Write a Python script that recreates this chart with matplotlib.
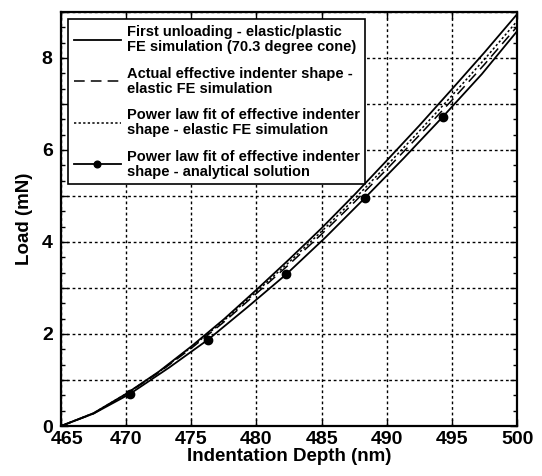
import matplotlib.pyplot as plt
import matplotlib.transforms as mtransforms
from matplotlib.ticker import MultipleLocator, FuncFormatter

plt.rcParams['font.family'] = ['Liberation Sans', 'DejaVu Sans']
plt.rcParams['font.weight'] = 'bold'

# depth grid for the FE curves (nm)
depth = [465, 467.5, 470, 472.5, 475, 477.5, 480, 482.5, 485, 487.5, 490, 492.5, 495, 497.5, 500]
# first unloading - elastic/plastic FE (mN)
load_fe = [0, 0.28, 0.70, 1.18, 1.73, 2.32, 2.96, 3.62, 4.30, 5.02, 5.77, 6.53, 7.32, 8.12, 8.95]
# actual effective indenter shape - elastic FE
load_eff = [0, 0.27, 0.69, 1.16, 1.69, 2.26, 2.88, 3.51, 4.17, 4.86, 5.58, 6.32, 7.08, 7.86, 8.68]
# power law fit - elastic FE
load_fit = [0, 0.28, 0.70, 1.17, 1.71, 2.29, 2.92, 3.56, 4.23, 4.93, 5.66, 6.41, 7.18, 7.97, 8.80]

# power law fit - analytical solution
depth_an = [465, 467.5, 470.3, 473.3, 476.3, 479.3, 482.3, 485.3, 488.3, 491.3, 494.3, 497.3, 500]
load_an = [0, 0.27, 0.70, 1.27, 1.88, 2.58, 3.30, 4.10, 4.95, 5.82, 6.72, 7.65, 8.58]
marker_idx = [2, 4, 6, 8, 10]

xticks = [465, 470, 475, 480, 485, 490, 495, 500]

labels = ['First unloading - elastic/plastic\nFE simulation (70.3 degree cone)',
          'Actual effective indenter shape -\nelastic FE simulation',
          'Power law fit of effective indenter\nshape - elastic FE simulation',
          'Power law fit of effective indenter\nshape - analytical solution']

fig = plt.figure(figsize=(5.42, 4.76), dpi=100)
ax = fig.add_axes([0.1125, 0.105, 0.8415, 0.87])

ax.plot(depth, load_fe, color='black', lw=1.3, label=labels[0])
ax.plot(depth, load_eff, color='black', lw=1.1, ls=(0, (7, 4)), label=labels[1])
ax.plot(depth, load_fit, color='black', lw=1.1, ls=(0, (1.5, 1.5)), label=labels[2])
ax.plot(depth_an, load_an, color='black', lw=1.3, marker='o', ms=6,
        markevery=marker_idx, label=labels[3])

ax.set_xlim(465, 500)
ax.set_ylim(0, 9)
ax.set_xticks(xticks)
ax.yaxis.set_major_locator(MultipleLocator(1))
ax.yaxis.set_minor_locator(MultipleLocator(1 / 3))
ax.yaxis.set_major_formatter(FuncFormatter(lambda v, p: '%d' % v if int(round(v)) % 2 == 0 else ''))
ax.tick_params(which='both', direction='in', top=True, right=True, labelsize=14, width=1)
ax.tick_params(which='major', length=5)
ax.tick_params(which='minor', length=3)
ax.tick_params(axis='y', pad=6)
ax.grid(True, which='major', color='black', ls=(0, (2, 2)), lw=1.0)
for s in ax.spines.values():
    s.set_linewidth(1.6)

ax.set_xlabel('Indentation Depth (nm)', fontsize=13.5, fontweight='bold', labelpad=0)
ax.set_ylabel('Load (mN)', fontsize=13.5, fontweight='bold', labelpad=6)

# keep "465" and "0" from touching, as in the reference
first = ax.get_xticklabels()[0]
first.set_transform(first.get_transform() + mtransforms.ScaledTranslation(6 / 100, 0, fig.dpi_scale_trans))

leg = ax.legend(loc='upper left', fontsize=10.5, frameon=True, fancybox=False,
                edgecolor='black', framealpha=1, handlelength=3.2, labelspacing=0.85,
                borderaxespad=0.5, handletextpad=0.4, markerscale=0.8)
leg.get_frame().set_linewidth(1.2)
for t in leg.get_texts():
    t.set_linespacing(1.1)

fig.savefig('out.png', dpi=100)
